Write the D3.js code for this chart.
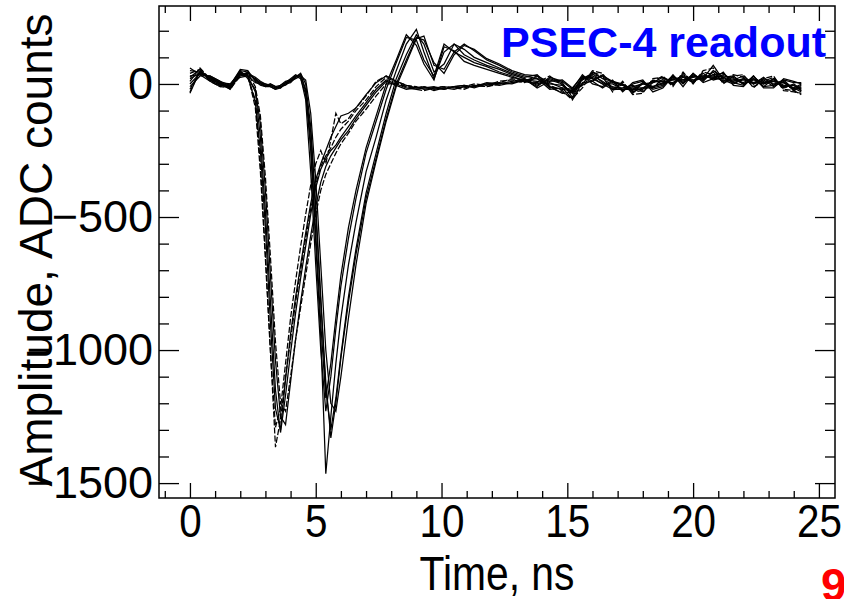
<!DOCTYPE html>
<html>
<head>
<meta charset="utf-8">
<script src="https://cdn.jsdelivr.net/npm/d3@7"></script>
<style>
  body { margin: 0; background: #fff; }
  svg { display: block; font-family: "Liberation Sans", Arial, sans-serif; }
</style>
</head>
<body>
<div id="display"></div>
<script>
// sample times (ns), shared by all traces
const times = [0, 0.4, 0.8, 1.2, 1.6, 2.0, 2.3, 2.6, 2.8, 3.0, 3.2, 3.4, 3.6, 3.8, 4.0,
  4.2, 4.4, 4.6, 4.8, 5.0, 5.2, 5.4, 5.6, 5.8, 6.0, 6.3, 6.6, 7.0, 7.4, 7.8,
  8.2, 8.6, 9.0, 9.3, 9.7, 10.1, 10.5, 10.9, 11.3, 11.8, 12.3, 12.8, 13.3,
  13.8, 14.3, 14.8, 15.2, 15.6, 16.0, 16.4, 16.8, 17.2, 17.6, 18.0, 18.4, 18.8, 19.2, 19.6,
  20.0, 20.4, 20.8, 21.2, 21.6, 22.0, 22.4, 22.8, 23.2, 23.6, 24.0, 24.3];

// early pulses (ADC counts)
const earlyA1 = [40, 55, 15, -5, -15, 35, 25,
  -60, -300, -640, -1000, -1365, -1260, -1100, -960, -820, -700, -580, -470, -380, -310, -270, -240, -200, -170, -140, -100, -60, -10, 25,
  5, -10, -15, -10, -20, -15, -10, -15, -5, -10, 0, 5, 10,
  30, -15, -30, -55, -15, 45, 30, -30, 10, -40, -35, 20, 25, -10, 45, 0, 50, 60, 0, 30, 35, -15, 20, 30, -25, -30, -35];
const earlyA2 = [-20, 45, 25, 5, -10, 45, 30,
  -30, -200, -480, -820, -1150, -1310, -1170, -1010, -860, -730, -610, -490, -390, -320, -280, -250, -230, -200, -160, -120, -70, -20, 15,
  0, -15, -20, -15, -15, -20, -10, -5, -10, 0, 5, 0, 15,
  -10, 25, 10, -20, 35, 0, -10, 15, -30, 5, 15, -30, -15, 30, 0, 40, 5, 20, 45, -5, -10, 30, -15, -15, 20, 10, 0];
const earlyA3 = [10, 60, 20, 0, -20, 30, 35,
  -90, -330, -660, -1010, -1290, -1220, -1050, -880, -740, -610, -490, -380, -300, -250, -300, -210, -110, -150, -130, -90, -45, 10, 30,
  10, -5, -10, -20, -15, -10, -15, -10, 0, -5, 10, 15, 5,
  25, -5, -25, -60, 0, 50, 40, -20, 5, -30, -25, 10, 30, -5, 40, 10, 45, 35, 10, 35, 25, -10, 10, 25, -20, -25, -40];
const earlyA4 = [30, 35, 30, 10, -5, 50, 20,
  -20, -150, -400, -720, -1040, -1250, -1280, -1120, -960, -820, -690, -570, -460, -370, -310, -270, -240, -210, -175, -130, -80, -30, 10,
  -5, -20, -15, -10, -25, -15, -20, -10, -10, 5, 0, 10, 20,
  -15, 10, 15, -15, 30, 10, -15, 10, -25, 0, 10, -20, -10, 35, -10, 40, 10, 50, 25, 5, -5, 30, -10, -5, 15, 5, 5];
const earlyA5 = [-30, 50, 10, -10, -15, 40, 40,
  -10, -120, -350, -650, -970, -1200, -1230, -1100, -960, -840, -720, -600, -490, -400, -340, -300, -260, -225, -185, -140, -95, -45, 0,
  0, -10, -20, -25, -15, -10, -15, -20, -5, -10, 5, 20, 10,
  5, 30, -5, -40, 15, 35, 25, -25, 0, -35, 5, -15, 20, 15, 30, 5, 35, 20, 35, 15, 5, 25, 0, 20, -10, -15, -30];
const earlyA6 = [20, 40, 25, 5, 0, 25, 30,
  -70, -250, -540, -900, -1220, -1300, -1110, -940, -800, -680, -560, -450, -360, -300, -250, -200, -160, -120, -110, -90, -40, 5, 30,
  10, -5, -15, -15, -10, -20, -10, -5, -15, 0, -5, 5, 15,
  20, -10, -35, -30, 25, 20, 0, 0, -20, -20, -20, 15, 0, 20, 15, 30, 20, 70, 15, 0, 20, 0, 15, -10, 10, -25, -10];

// late pulses (ADC counts)
const lateB1 = [50, 45, 20, 0, -10, 50, 45, 15, 0, -5, -5, -15, -10, 0, 15, 30, 35,
  -30, -250, -600, -950, -1465, -1250, -1050, -880, -680, -520, -330, -200, -60,
  50, 150, 205, 120, 20, 120, 150, 110, 90, 70, 55, 35, 20,
  -5, 20, 5, -50, 20, 40, 5, -10, -20, -10, 0, 5, 25, 0, 35, 15, 30, 25, 30, 25, 0, 20, 5, 15, -5, -5, -25];
const lateB2 = [-10, 30, 30, 10, -20, 40, 35, 20, 5, 0, -10, -20, -5, 5, 10, 25, 40,
  0, -160, -460, -800, -1150, -1300, -1180, -1020, -800, -620, -410, -260, -110,
  20, 110, 185, 150, 45, 75, 150, 130, 100, 80, 60, 40, 25,
  35, -10, -20, -25, -5, 15, 30, 10, 0, -30, -15, -15, -5, 25, 10, 35, 15, 45, 5, 15, 30, 0, 25, -5, 15, -20, -5];
const lateB3 = [25, 55, 15, -5, -5, 55, 50, 10, -5, -10, 0, -10, -15, 5, 20, 35, 25,
  -60, -330, -680, -1000, -1230, -1100, -920, -760, -580, -430, -260, -140, -20,
  80, 175, 165, 90, 30, 150, 120, 100, 80, 65, 45, 30, 10,
  0, 15, 0, -35, 20, 30, 10, -15, -15, -5, -30, 5, 15, 0, 25, 5, 40, 15, 25, 30, 0, 20, -10, 20, -15, 0, -20];
const lateB4 = [0, 40, 25, 5, -15, 35, 40, 25, 10, 0, -5, -15, -10, -5, 10, 20, 30,
  15, -110, -360, -680, -1000, -1200, -1230, -1100, -880, -680, -450, -290, -140,
  -10, 80, 170, 180, 70, 55, 120, 150, 125, 90, 70, 45, 30,
  20, -20, -15, -55, 5, 10, 35, 5, -5, -25, 0, -10, 0, 30, 5, 30, 20, 35, 40, 5, 15, 5, 20, 0, 5, -20, -15];
const lateB5 = [60, 35, 10, -10, 0, 45, 30, 5, 0, -10, -10, -20, -15, 0, 5, 25, 35,
  -20, -220, -560, -900, -1180, -1050, -880, -720, -540, -400, -240, -120, 0,
  90, 185, 145, 75, 15, 140, 125, 85, 70, 55, 40, 25, 15,
  10, 0, -5, -30, 25, 25, 0, -20, -20, -15, -15, 10, 10, 5, 30, 10, 25, 30, 10, 20, 0, 15, 5, 10, -10, -5, -25];
const lateB6 = [-35, 50, 20, 0, -10, 30, 45, 15, 5, -5, 0, -10, -5, 10, 15, 30, 20,
  -40, -180, -480, -820, -1120, -1330, -1200, -1030, -820, -640, -430, -280, -130,
  0, 90, 175, 165, 80, 40, 110, 145, 130, 95, 75, 50, 35,
  30, 5, -15, -20, 0, 45, 20, 10, -5, -20, 5, -10, 5, 15, 15, 25, 30, 20, 20, 10, 20, 5, 0, 10, 5, -15, 0];

const traces = [
  {vals: earlyA1, dashed: true}, {vals: earlyA2, dashed: false}, {vals: earlyA3, dashed: true},
  {vals: earlyA4, dashed: false}, {vals: earlyA5, dashed: true}, {vals: earlyA6, dashed: false},
  {vals: lateB1, dashed: false}, {vals: lateB2, dashed: false}, {vals: lateB3, dashed: false},
  {vals: lateB4, dashed: false}, {vals: lateB5, dashed: false}, {vals: lateB6, dashed: false}
];

const xMajor = [0, 5, 10, 15, 20, 25];
const xMinor = [-1, 1, 2, 3, 4, 6, 7, 8, 9, 11, 12, 13, 14, 16, 17, 18, 19, 21, 22, 23, 24];
const yMajor = [0, -500, -1000, -1500];
const yMinor = [200, 100, -100, -200, -300, -400, -600, -700, -800, -900, -1100, -1200, -1300, -1400];

const width = 844, height = 599;
const frame = {left: 159, right: 835, top: 6, bottom: 498};

const x = d3.scaleLinear().domain([-1.23, 25.64]).range([frame.left, frame.right]);
const y = d3.scaleLinear().domain([293, -1556]).range([frame.top, frame.bottom]);

const svg = d3.select("#display").append("svg")
    .attr("width", width)
    .attr("height", height);

// traces
const line = d3.line()
    .x((d, i) => x(times[i]))
    .y(d => y(d));

svg.append("clipPath").attr("id", "plotclip")
  .append("rect")
    .attr("x", frame.left).attr("y", frame.top)
    .attr("width", frame.right - frame.left).attr("height", frame.bottom - frame.top);

svg.append("g")
    .attr("clip-path", "url(#plotclip)")
  .selectAll("path")
  .data(traces)
  .join("path")
    .attr("fill", "none")
    .attr("stroke", "#000")
    .attr("stroke-width", 1.25)
    .attr("stroke-dasharray", d => d.dashed ? "6,2" : null)
    .attr("d", d => line(d.vals));

// axes, ticks pointing inward on all four sides
function styleAxis(g) {
  g.select(".domain").remove();
  g.selectAll("line").attr("stroke", "#000").attr("stroke-width", 1.3);
}

svg.append("g")
    .attr("transform", `translate(0,${frame.bottom})`)
    .call(d3.axisBottom(x).tickValues(xMajor).tickSize(-15).tickPadding(6).tickFormat(d3.format("d")))
    .call(styleAxis)
    .call(g => g.selectAll("text").attr("font-size", 47).attr("fill", "#000")
      .attr("transform", "scale(0.86,1)")
      .attr("font-family", "Liberation Sans, Arial, sans-serif"));
svg.append("g")
    .attr("transform", `translate(0,${frame.bottom})`)
    .call(d3.axisBottom(x).tickValues(xMinor).tickSize(-7).tickFormat(""))
    .call(styleAxis);
svg.append("g")
    .attr("transform", `translate(0,${frame.top})`)
    .call(d3.axisTop(x).tickValues(xMajor).tickSize(-15).tickFormat(""))
    .call(styleAxis);
svg.append("g")
    .attr("transform", `translate(0,${frame.top})`)
    .call(d3.axisTop(x).tickValues(xMinor).tickSize(-7).tickFormat(""))
    .call(styleAxis);

svg.append("g")
    .attr("transform", `translate(${frame.left},0)`)
    .call(d3.axisLeft(y).tickValues(yMajor).tickSize(-20).tickPadding(6).tickFormat(d3.format("d")))
    .call(styleAxis)
    .call(g => g.selectAll("text").attr("font-size", 45).attr("fill", "#000")
      .attr("font-family", "Liberation Sans, Arial, sans-serif"));
svg.append("g")
    .attr("transform", `translate(${frame.left},0)`)
    .call(d3.axisLeft(y).tickValues(yMinor).tickSize(-10).tickFormat(""))
    .call(styleAxis);
svg.append("g")
    .attr("transform", `translate(${frame.right},0)`)
    .call(d3.axisRight(y).tickValues(yMajor).tickSize(-20).tickFormat(""))
    .call(styleAxis);
svg.append("g")
    .attr("transform", `translate(${frame.right},0)`)
    .call(d3.axisRight(y).tickValues(yMinor).tickSize(-10).tickFormat(""))
    .call(styleAxis);

// frame
svg.append("rect")
    .attr("x", frame.left).attr("y", frame.top)
    .attr("width", frame.right - frame.left).attr("height", frame.bottom - frame.top)
    .attr("fill", "none").attr("stroke", "#000").attr("stroke-width", 1.5);

// titles
svg.append("text")
    .attr("transform", "translate(497,590) scale(0.85,1)")
    .attr("text-anchor", "middle")
    .attr("font-size", 48)
    .text("Time, ns");

svg.append("text")
    .attr("transform", "translate(52,250) rotate(-90)")
    .attr("text-anchor", "middle")
    .attr("font-size", 46)
    .text("Amplitude, ADC counts");

svg.append("text")
    .attr("x", 826).attr("y", 57)
    .attr("text-anchor", "end")
    .attr("font-size", 43)
    .attr("font-weight", "bold")
    .attr("fill", "#0000ff")
    .text("PSEC-4 readout");

svg.append("text")
    .attr("x", 821).attr("y", 601)
    .attr("font-size", 46)
    .attr("font-weight", "bold")
    .attr("fill", "#ff0000")
    .text("9");
</script>
</body>
</html>
